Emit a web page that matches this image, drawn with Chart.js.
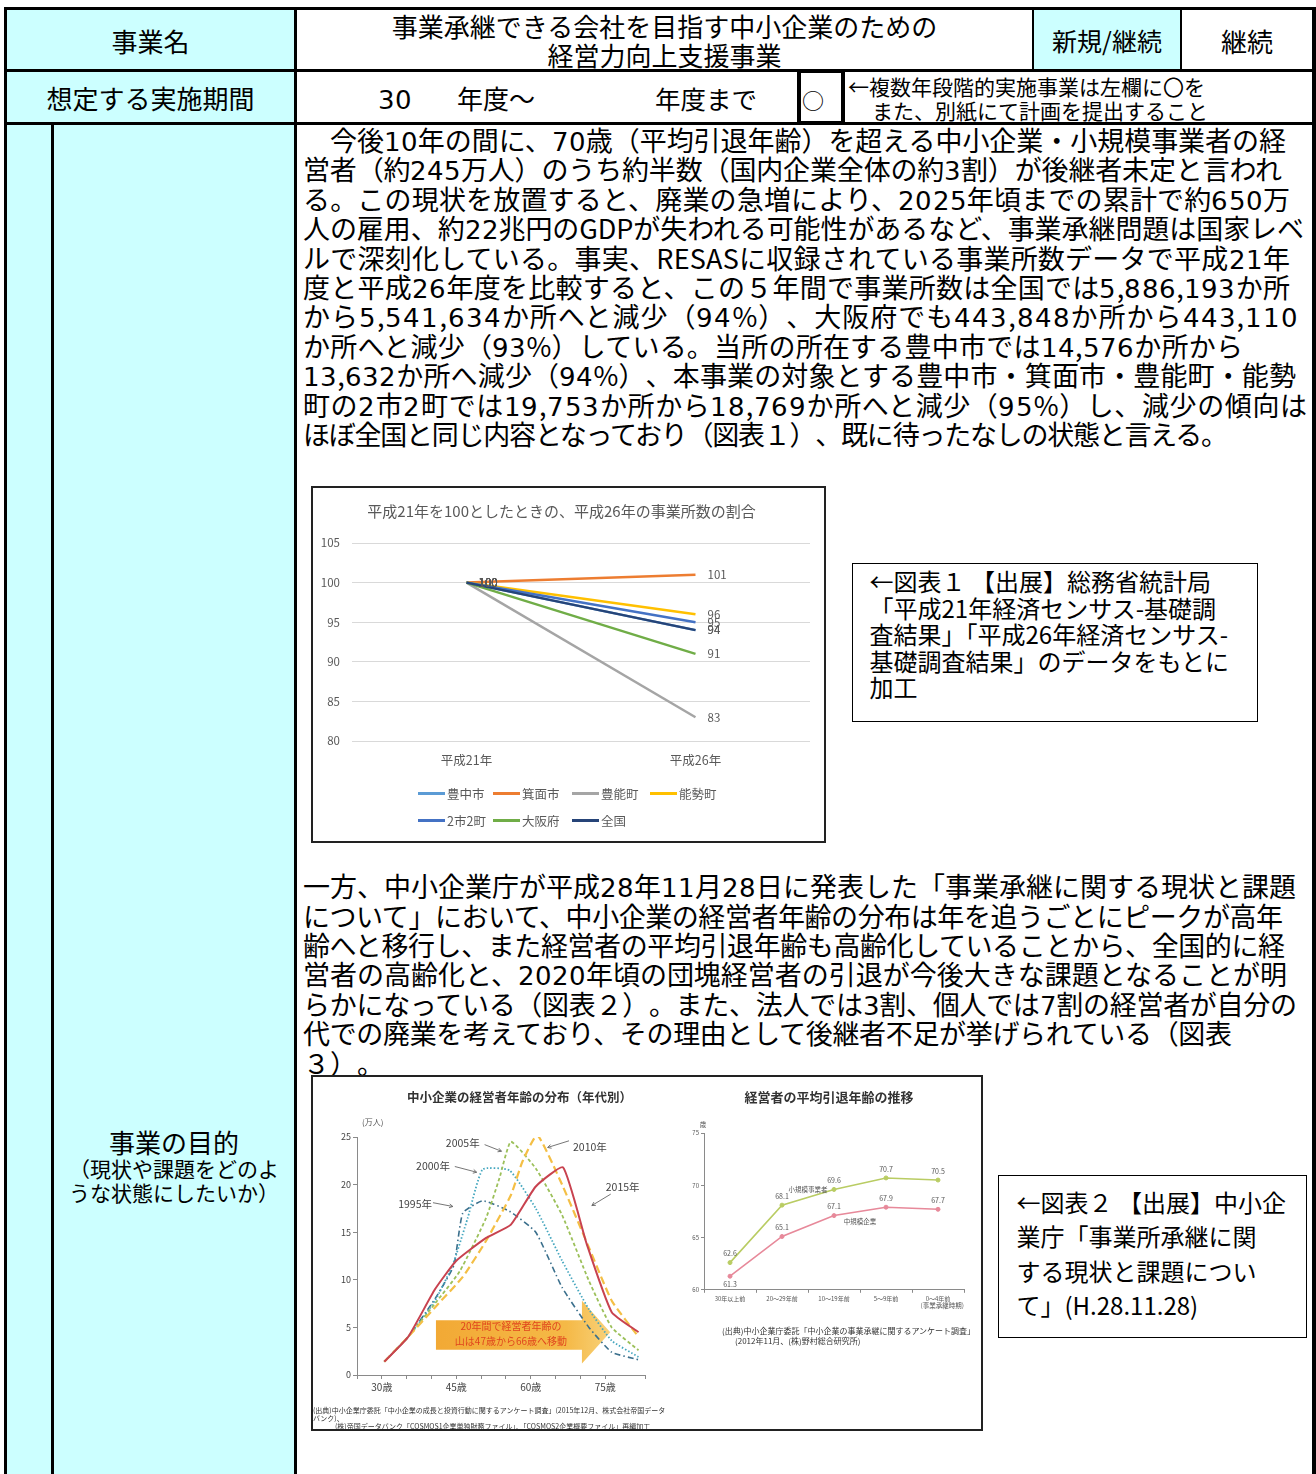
<!DOCTYPE html>
<html lang="ja">
<head>
<meta charset="utf-8">
<title>事業承継できる会社を目指す中小企業のための経営力向上支援事業</title>
<script src="https://cdn.jsdelivr.net/npm/chart.js@4.4.1/dist/chart.umd.min.js"></script>
<style>
  /* 本文の数字だけ字幅の広い書体にする */
  @font-face { font-family: "BodyDigits"; src: local("DejaVu Sans"), local("DejaVuSans");
               unicode-range: U+0030-0039; size-adjust: 96%; }
  html, body { margin: 0; padding: 0; background: #fff; }
  body {
    width: 1316px; height: 1474px; position: relative; overflow: hidden;
    font-family: "Noto Sans CJK JP", "Noto Sans", sans-serif; color: #000;
  }
  .bk { position: absolute; background: #000; }
  .cy { position: absolute; background: #ccffff; }
  .t  { position: absolute; white-space: nowrap; }
  .c  { text-align: center; }
  .dg { font-family: "BodyDigits", "Noto Sans CJK JP", "Noto Sans", sans-serif; }
  .para { position: absolute; left: 303px; font-size: 27px; line-height: 29.4px; white-space: nowrap;
          font-family: "BodyDigits", "Noto Sans CJK JP", "Noto Sans", sans-serif; text-spacing-trim: space-all; }
  .para div { height: 29.4px; width: max-content; }
  .fig { position: absolute; box-sizing: border-box; border: 2px solid #222; background: #fff; z-index: 2; }
  .fig canvas { position: absolute; }
  .soft1 { position: absolute; left: 0; top: 0; right: 0; bottom: 0; filter: blur(0.3px); }
  .soft2 { position: absolute; left: 0; top: 0; right: 0; bottom: 0; filter: blur(0.45px); }
  .note { position: absolute; box-sizing: border-box; border: 1.5px solid #000; background: #fff; white-space: nowrap; }
  #legend1 { position: absolute; left: 105px; top: 292px; display: grid;
             grid-template-columns: 75px 79px 78px auto; grid-auto-rows: 27px;
             font-size: 12.5px; color: #595959; }
  #legend1 .it { display: flex; align-items: center; }
  #legend1 .sw { width: 27px; height: 3px; margin-right: 2px; }
  .fn { position: absolute; white-space: nowrap; color: #333; }
</style>
</head>
<body>

<!-- 表の背景色 -->
<div class="cy" style="left:7px;top:10px;width:287px;height:59px;"></div>
<div class="cy" style="left:7px;top:72px;width:287px;height:50px;"></div>
<div class="cy" style="left:1034px;top:10px;width:146px;height:59px;"></div>
<div class="cy" style="left:7px;top:125px;width:44px;height:1349px;"></div>
<div class="cy" style="left:54px;top:125px;width:240px;height:1349px;"></div>

<!-- 罫線 -->
<div class="bk" style="left:4px;top:7px;width:1312px;height:3px;"></div>
<div class="bk" style="left:4px;top:7px;width:3px;height:1467px;"></div>
<div class="bk" style="left:1312px;top:7px;width:4px;height:1467px;"></div>
<div class="bk" style="left:4px;top:69px;width:1312px;height:3px;"></div>
<div class="bk" style="left:4px;top:122px;width:1312px;height:3px;"></div>
<div class="bk" style="left:294px;top:7px;width:3px;height:1467px;"></div>
<div class="bk" style="left:51px;top:122px;width:3px;height:1352px;"></div>
<div class="bk" style="left:1032px;top:7px;width:2px;height:64px;"></div>
<div class="bk" style="left:1180px;top:7px;width:2px;height:64px;"></div>
<div style="position:absolute;left:797px;top:69px;width:48px;height:56px;box-sizing:border-box;border:4px solid #000;background:#fff;"></div>

<!-- 1行目 -->
<div class="t c" style="left:7px;width:287px;top:25.5px;font-size:26px;line-height:29px;">事業名</div>
<div class="t c" style="left:297px;width:735px;top:10.5px;font-size:26px;line-height:29px;">事業承継できる会社を目指す中小企業のための<br>経営力向上支援事業</div>
<div class="t c" style="left:1034px;width:146px;top:25.5px;font-size:25px;line-height:29px;">新規/継続</div>
<div class="t c" style="left:1182px;width:130px;top:25.5px;font-size:26px;line-height:29px;">継続</div>

<!-- 2行目 -->
<div class="t c" style="left:7px;width:287px;top:82.5px;font-size:26px;line-height:29px;">想定する実施期間</div>
<div class="t dg" style="left:378px;top:82.5px;font-size:27px;line-height:29px;">30</div>
<div class="t" style="left:457px;top:82.5px;font-size:26px;line-height:29px;">年度～</div>
<div class="t" style="left:655px;top:82.5px;font-size:25.5px;line-height:29px;">年度まで</div>
<div class="t" style="left:802px;top:86px;font-size:22px;line-height:26px;">○</div>
<div class="t" style="left:848px;top:75px;font-size:21px;line-height:23px;">←複数年段階的実施事業は左欄に〇を</div>
<div class="t" style="left:872px;top:98.5px;font-size:21px;line-height:23px;">また、別紙にて計画を提出すること</div>

<!-- 3行目 見出し -->
<div class="t c" style="left:54px;width:240px;top:1127px;font-size:26px;line-height:30px;">事業の目的</div>
<div class="t c" style="left:54px;width:240px;top:1156px;font-size:21px;line-height:24px;">（現状や課題をどのよ<br>うな状態にしたいか）</div>

<!-- 本文（data-r は行末の x 座標） -->
<div class="para" style="top:125px;">
  <div data-r="1286">　今後10年の間に、70歳（平均引退年齢）を超える中小企業・小規模事業者の経</div>
  <div data-r="1282">営者（約245万人）のうち約半数（国内企業全体の約3割）が後継者未定と言われ</div>
  <div data-r="1290">る。この現状を放置すると、廃業の急増により、2025年頃までの累計で約650万</div>
  <div data-r="1304">人の雇用、約22兆円のGDPが失われる可能性があるなど、事業承継問題は国家レベ</div>
  <div data-r="1290">ルで深刻化している。事実、RESASに収録されている事業所数データで平成21年</div>
  <div data-r="1290">度と平成26年度を比較すると、この５年間で事業所数は全国では5,886,193か所</div>
  <div data-r="1298">から5,541,634か所へと減少（94%）、大阪府でも443,848か所から443,110</div>
  <div data-r="1243">か所へと減少（93%）している。当所の所在する豊中市では14,576か所から</div>
  <div data-r="1296">13,632か所へ減少（94%）、本事業の対象とする豊中市・箕面市・豊能町・能勢</div>
  <div data-r="1307">町の2市2町では19,753か所から18,769か所へと減少（95%）し、減少の傾向は</div>
  <div data-r="1228">ほぼ全国と同じ内容となっており（図表１）、既に待ったなしの状態と言える。</div>
</div>

<div class="para" style="top:871.3px;">
  <div data-r="1296">一方、中小企業庁が平成28年11月28日に発表した「事業承継に関する現状と課題</div>
  <div data-r="1283">について」において、中小企業の経営者年齢の分布は年を追うごとにピークが高年</div>
  <div data-r="1285">齢へと移行し、また経営者の平均引退年齢も高齢化していることから、全国的に経</div>
  <div data-r="1287">営者の高齢化と、2020年頃の団塊経営者の引退が今後大きな課題となることが明</div>
  <div data-r="1297">らかになっている（図表２）。また、法人では3割、個人では7割の経営者が自分の</div>
  <div data-r="1232">代での廃業を考えており、その理由として後継者不足が挙げられている（図表</div>
  <div>３）。</div>
</div>

<!-- 図表1 -->
<div class="fig" id="fig1" style="left:311px;top:486px;width:515px;height:357px;">
  <div class="soft1">
    <canvas id="c1" width="511" height="353" style="left:0;top:0;"></canvas>
    <div id="legend1"></div>
  </div>
</div>
<div class="note" style="left:852px;top:563px;width:406px;height:159px;padding:4px 0 0 16.5px;font-size:24px;line-height:26.5px;">
←図表１ 【出展】総務省統計局<br>「平成21年経済センサス-基礎調<br>査結果」「平成26年経済センサス-<br>基礎調査結果」のデータをもとに<br>加工</div>

<!-- 図表2 -->
<div class="fig" id="fig2" style="left:311px;top:1075px;width:672px;height:356px;overflow:hidden;">
  <div class="soft2">
    <div class="t c" style="left:94px;width:200px;top:12px;font-size:12.5px;line-height:16px;font-weight:bold;color:#333;">中小企業の経営者年齢の分布（年代別）</div>
    <canvas id="c2" width="367" height="323" style="left:0;top:0;"></canvas>
    <div class="t c" style="left:416px;width:200px;top:12px;font-size:13px;line-height:16px;font-weight:bold;color:#333;">経営者の平均引退年齢の推移</div>
    <canvas id="c3" width="300" height="240" style="left:367px;top:0;"></canvas>
    <div class="fn" style="left:409px;top:249px;font-size:8px;line-height:10px;">(出典)中小企業庁委託「中小企業の事業承継に関するアンケート調査」</div>
    <div class="fn" style="left:422px;top:259px;font-size:8px;line-height:10px;">(2012年11月、(株)野村総合研究所)</div>
    <div class="fn" style="left:0;top:329px;font-size:7px;line-height:8px;">(出典)中小企業庁委託「中小企業の成長と投資行動に関するアンケート調査」(2015年12月、株式会社帝国データ</div>
    <div class="fn" style="left:0;top:337px;font-size:7px;line-height:8px;">バンク)、</div>
    <div class="fn" style="left:22px;top:345px;font-size:7px;line-height:8px;">(株)帝国データバンク「COSMOS1企業単独財務ファイル」、「COSMOS2企業概要ファイル」再編加工</div>
  </div>
</div>
<div class="note" style="left:998px;top:1175px;width:309px;height:163px;padding:9px 0 0 17.5px;font-size:24px;line-height:34.3px;">
←図表２ 【出展】中小企<br>業庁「事業所承継に関<br>する現状と課題につい<br>て」(H.28.11.28)</div>

<script>
// 本文の各行を行末位置まで字間で揃える
function fitLines() {
  document.querySelectorAll('.para div[data-r]').forEach(d => {
    d.style.letterSpacing = '0px';
    const natural = d.getBoundingClientRect().width;
    const target = Number(d.dataset.r) - 303;
    const n = Array.from(d.textContent).length;
    if (n > 1) d.style.letterSpacing = ((target - natural) / (n - 1)) + 'px';
  });
}
fitLines();
if (document.fonts && document.fonts.ready) document.fonts.ready.then(fitLines);

Chart.defaults.font.family = '"Noto Sans CJK JP", "Noto Sans", sans-serif';

/* ===== 図表1：平成21年を100としたときの平成26年の事業所数 ===== */
const fig1Years = ['平成21年', '平成26年'];
const fig1Names = ['豊中市', '箕面市', '豊能町', '能勢町', '2市2町', '大阪府', '全国'];
const toyonakaIdx = [100, 94];
const minohIdx    = [100, 101];
const toyonoIdx   = [100, 83];
const noseIdx     = [100, 96];
const twoCityIdx  = [100, 95];
const osakaIdx    = [100, 91];
const nationIdx   = [100, 94];
const fig1Values  = [toyonakaIdx, minohIdx, toyonoIdx, noseIdx, twoCityIdx, osakaIdx, nationIdx];
const fig1Colors  = ['#5b9bd5', '#ed7d31', '#a5a5a5', '#ffc000', '#4472c4', '#70ad47', '#264478'];

/* ===== 図表2左：中小企業の経営者年齢の分布（年代別、万人） ===== */
const agesY1995 = [30.5, 35.3, 40.7, 44.5, 46.3, 50.3, 55.7, 61.0, 66.3, 71.7, 76.3, 81.7];
const cntY1995  = [1.4, 4.0, 8.0, 11.5, 17.0, 18.3, 17.2, 15.0, 9.2, 5.0, 2.4, 1.6];
const agesY2000 = [30.5, 35.3, 40.7, 44.3, 47.3, 50.3, 55.7, 61.0, 66.3, 71.7, 76.3, 81.7];
const cntY2000  = [1.4, 4.0, 7.8, 11.6, 16.5, 21.6, 21.5, 17.5, 12.0, 6.9, 3.6, 1.9];
const agesY2005 = [30.5, 35.3, 40.7, 45.7, 51.0, 53.7, 56.0, 61.0, 66.3, 71.7, 76.3, 81.7];
const cntY2005  = [1.4, 4.0, 7.5, 10.9, 16.5, 20.7, 24.5, 21.7, 16.8, 9.9, 5.0, 2.6];
const agesY2010 = [30.5, 35.3, 40.7, 46.3, 51.0, 56.0, 58.3, 61.3, 66.3, 71.7, 76.3, 81.7];
const cntY2010  = [1.4, 4.0, 7.1, 10.3, 14.1, 18.9, 22.4, 25.2, 20.0, 13.4, 7.8, 4.0];
const agesY2015 = [30.5, 35.3, 40.7, 45.0, 51.0, 56.0, 61.0, 66.5, 71.3, 76.3, 81.7];
const cntY2015  = [1.4, 4.0, 9.0, 12.0, 14.4, 15.8, 19.8, 21.8, 13.7, 6.6, 4.5];
const distYears = ['1995年', '2000年', '2005年', '2010年', '2015年'];
const distAges  = [agesY1995, agesY2000, agesY2005, agesY2010, agesY2015];
const distCnts  = [cntY1995, cntY2000, cntY2005, cntY2010, cntY2015];
const ageTickLabels = [30, 45, 60, 75];

/* ===== 図表2右：経営者の平均引退年齢の推移（歳） ===== */
const retireTerms = ['30年以上前', '20～29年前', '10～19年前', '5～9年前', '0～4年前'];
const retireSmall = [62.6, 68.1, 69.6, 70.7, 70.5];
const retireMid   = [61.3, 65.1, 67.1, 67.9, 67.7];
const retireNames = ['小規模事業者', '中規模企業'];

/* ---------- 図表1 ---------- */
const fig1ValueLabels = {
  id: 'fig1ValueLabels',
  afterDatasetsDraw(chart) {
    const ctx = chart.ctx;
    ctx.save();
    ctx.font = '11.5px "Noto Sans CJK JP"';
    ctx.fillStyle = '#595959';
    ctx.textBaseline = 'middle';
    chart.data.datasets.forEach((ds, i) => {
      chart.getDatasetMeta(i).data.forEach((pt, j) => {
        ctx.fillText(String(ds.data[j]), pt.x + 12, pt.y);
      });
    });
    ctx.restore();
  }
};

new Chart(document.getElementById('c1'), {
  type: 'line',
  data: {
    labels: fig1Years,
    datasets: fig1Values.map((vals, i) => ({
      label: fig1Names[i], data: vals, borderColor: fig1Colors[i], backgroundColor: fig1Colors[i],
      borderWidth: 2.5, pointRadius: 0, tension: 0, order: fig1Values.length - i
    }))
  },
  options: {
    responsive: false, animation: false,
    layout: { padding: { left: 0, right: 14, top: 0, bottom: 69 } },
    plugins: {
      legend: { display: false }, tooltip: { enabled: false },
      title: { display: true, text: '平成21年を100としたときの、平成26年の事業所数の割合',
               color: '#595959', font: { size: 15, weight: 'normal' }, padding: { top: 14, bottom: 23 } }
    },
    scales: {
      x: { offset: true, grid: { display: false }, border: { display: false },
           ticks: { color: '#595959', font: { size: 12.5 }, padding: 4 } },
      y: { min: 80, max: 105, ticks: { stepSize: 5, color: '#595959', font: { size: 11.5 }, padding: 12 },
           grid: { color: '#d9d9d9', drawTicks: false }, border: { display: false },
           afterFit(s) { s.width = 39; } }
    }
  },
  plugins: [fig1ValueLabels]
});

// 凡例
const legend1 = document.getElementById('legend1');
fig1Names.forEach((name, i) => {
  const it = document.createElement('div');
  it.className = 'it';
  if (i === 4) it.style.gridColumn = '1';
  it.innerHTML = '<span class="sw" style="background:' + fig1Colors[i] + '"></span><span>' + name + '</span>';
  legend1.appendChild(it);
});

/* ---------- 図表2 左 ---------- */
const distColors = ['#3a6f8c', '#45a7bf', '#9cc05a', '#f4bf45', '#c8424f'];
const distDash   = [[6, 3, 1.5, 3], [1.5, 2], [3.5, 2.5], [8, 4], []];
const distWidth  = [1.6, 1.8, 1.8, 2.2, 2];

// 年次の注記（年齢・万人の位置）と矢印の始点・終点
const yearNotes = [
  { text: '1995年', at: [36.7, 18.0], from: [40.3, 18.1], to: [44.3, 17.7] },
  { text: '2000年', at: [40.3, 22.0], from: [44.7, 21.9], to: [49.1, 21.3] },
  { text: '2005年', at: [46.3, 24.4], from: [50.7, 24.2], to: [54.1, 23.5] },
  { text: '2010年', at: [71.9, 24.0], from: [67.7, 24.6], to: [63.4, 23.9] },
  { text: '2015年', at: [78.5, 19.7], from: [76.1, 19.0], to: [72.3, 17.8] }
];
const shiftArrow = { tail: 40.9, neck: 70.3, tip: 76.0, bodyTop: 5.75, bodyBottom: 2.65, headTop: 7.8, headBottom: 1.2,
                     textAge: 56.0, lines: ['20年間で経営者年齢の', '山は47歳から66歳へ移動'], lineVals: [5.1, 3.6] };

function arrowLine(ctx, x1, y1, x2, y2) {
  ctx.beginPath(); ctx.moveTo(x1, y1); ctx.lineTo(x2, y2); ctx.stroke();
  const a = Math.atan2(y2 - y1, x2 - x1), h = 4;
  ctx.beginPath();
  ctx.moveTo(x2 - h * Math.cos(a - 0.5), y2 - h * Math.sin(a - 0.5));
  ctx.lineTo(x2, y2);
  ctx.lineTo(x2 - h * Math.cos(a + 0.5), y2 - h * Math.sin(a + 0.5));
  ctx.stroke();
}

const distDecor = {
  id: 'distDecor',
  beforeDatasetsDraw(chart) {
    const { ctx, scales: { x, y } } = chart;
    const a = shiftArrow;
    const x0 = x.getPixelForValue(a.tail), x1 = x.getPixelForValue(a.neck), x2 = x.getPixelForValue(a.tip);
    const bt = y.getPixelForValue(a.bodyTop), bb = y.getPixelForValue(a.bodyBottom);
    const ht = y.getPixelForValue(a.headTop), hb = y.getPixelForValue(a.headBottom);
    const g = ctx.createLinearGradient(x0, 0, x2, 0);
    g.addColorStop(0, '#f2a935'); g.addColorStop(0.75, '#f5b947'); g.addColorStop(1, '#f8d27a');
    ctx.save();
    ctx.fillStyle = g;
    ctx.beginPath();
    ctx.moveTo(x0, bt); ctx.lineTo(x1, bt); ctx.lineTo(x1, ht); ctx.lineTo(x2, (ht + hb) / 2);
    ctx.lineTo(x1, hb); ctx.lineTo(x1, bb); ctx.lineTo(x0, bb); ctx.closePath();
    ctx.fill();
    ctx.fillStyle = '#e0461e';
    ctx.font = '10px "Noto Sans CJK JP"';
    ctx.textAlign = 'center'; ctx.textBaseline = 'middle';
    a.lines.forEach((s, k) => ctx.fillText(s, x.getPixelForValue(a.textAge), y.getPixelForValue(a.lineVals[k])));
    ctx.restore();
  },
  afterDatasetsDraw(chart) {
    const { ctx, chartArea, scales: { x, y } } = chart;
    ctx.save();
    ctx.fillStyle = '#555';
    ctx.font = '8px "Noto Sans CJK JP"';
    ctx.textBaseline = 'middle';
    ctx.fillText('(万人)', chartArea.left + 5, chartArea.top - 15);
    ctx.font = '10.5px "Noto Sans CJK JP"';
    ctx.textAlign = 'center';
    ctx.strokeStyle = '#666'; ctx.lineWidth = 0.9;
    yearNotes.forEach(n => {
      ctx.fillStyle = '#444';
      ctx.fillText(n.text, x.getPixelForValue(n.at[0]), y.getPixelForValue(n.at[1]));
      arrowLine(ctx, x.getPixelForValue(n.from[0]), y.getPixelForValue(n.from[1]),
                     x.getPixelForValue(n.to[0]), y.getPixelForValue(n.to[1]));
    });
    ctx.restore();
  }
};

new Chart(document.getElementById('c2'), {
  type: 'line',
  data: {
    datasets: distYears.map((yr, i) => ({
      label: yr,
      data: distAges[i].map((age, k) => ({ x: age, y: distCnts[i][k] })),
      borderColor: distColors[i], borderDash: distDash[i], borderWidth: distWidth[i],
      pointRadius: 0, tension: 0.15, order: i === 4 ? 0 : 5 - i
    }))
  },
  options: {
    responsive: false, animation: false,
    layout: { padding: { left: 0, right: 35, top: 60, bottom: 5 } },
    plugins: { legend: { display: false }, tooltip: { enabled: false } },
    scales: {
      x: { type: 'linear', min: 25, max: 83,
           grid: { drawOnChartArea: false, tickLength: 4, color: '#8a8a8a' },
           border: { color: '#8a8a8a' },
           ticks: { stepSize: 5, padding: 2, color: '#444', font: { size: 10 }, maxRotation: 0, autoSkip: false,
                    callback: v => ageTickLabels.includes(v) ? v + '歳' : '' } },
      y: { min: 0, max: 25,
           grid: { drawOnChartArea: false, tickLength: 4, color: '#8a8a8a' },
           border: { color: '#8a8a8a' },
           ticks: { stepSize: 5, padding: 2, color: '#444', font: { size: 9 } },
           afterFit(s) { s.width = 44; } }
    }
  },
  plugins: [distDecor]
});

/* ---------- 図表2 右 ---------- */
const retireColors = ['#b9cc63', '#e7899a'];
const retireNamePos = [[1.5, 69.6], [2.5, 66.5]];

const retireDecor = {
  id: 'retireDecor',
  afterDatasetsDraw(chart) {
    const { ctx, chartArea, scales: { x, y } } = chart;
    ctx.save();
    ctx.font = '7px "Noto Sans CJK JP"';
    ctx.fillStyle = '#555';
    ctx.textAlign = 'center'; ctx.textBaseline = 'middle';
    chart.data.datasets.forEach((ds, i) => {
      chart.getDatasetMeta(i).data.forEach((pt, j) => {
        const below = i === 1 && j === 0;
        ctx.fillText(ds.data[j].toFixed(1), pt.x, below ? pt.y + 8 : pt.y - 9);
      });
    });
    ctx.font = '6.5px "Noto Sans CJK JP"';
    retireNames.forEach((nm, i) => {
      ctx.fillText(nm, x.getPixelForValue(retireNamePos[i][0]), y.getPixelForValue(retireNamePos[i][1]));
    });
    ctx.fillText('歳', chartArea.left - 1, chartArea.top - 8);
    ctx.textAlign = 'right';
    ctx.fillText('(事業承継時期)', chartArea.right, chartArea.bottom + 16);
    ctx.restore();
  }
};

new Chart(document.getElementById('c3'), {
  type: 'line',
  data: {
    labels: retireTerms,
    datasets: [retireSmall, retireMid].map((vals, i) => ({
      label: retireNames[i], data: vals, borderColor: retireColors[i], backgroundColor: retireColors[i],
      borderWidth: 1.6, pointRadius: 2, pointBorderWidth: 1, tension: 0
    }))
  },
  options: {
    responsive: false, animation: false,
    layout: { padding: { left: 0, right: 16, top: 56, bottom: 13 } },
    plugins: { legend: { display: false }, tooltip: { enabled: false } },
    scales: {
      x: { offset: true, grid: { offset: true, drawOnChartArea: false, tickLength: 3, color: '#8a8a8a' },
           border: { color: '#8a8a8a' },
           ticks: { padding: 2, color: '#555', font: { size: 6 }, maxRotation: 0, autoSkip: false } },
      y: { min: 60, max: 75,
           grid: { drawOnChartArea: false, tickLength: 3, color: '#8a8a8a' },
           border: { color: '#8a8a8a' },
           ticks: { stepSize: 5, padding: 2, color: '#555', font: { size: 6 } },
           afterFit(s) { s.width = 24; } }
    }
  },
  plugins: [retireDecor]
});
</script>
</body>
</html>
